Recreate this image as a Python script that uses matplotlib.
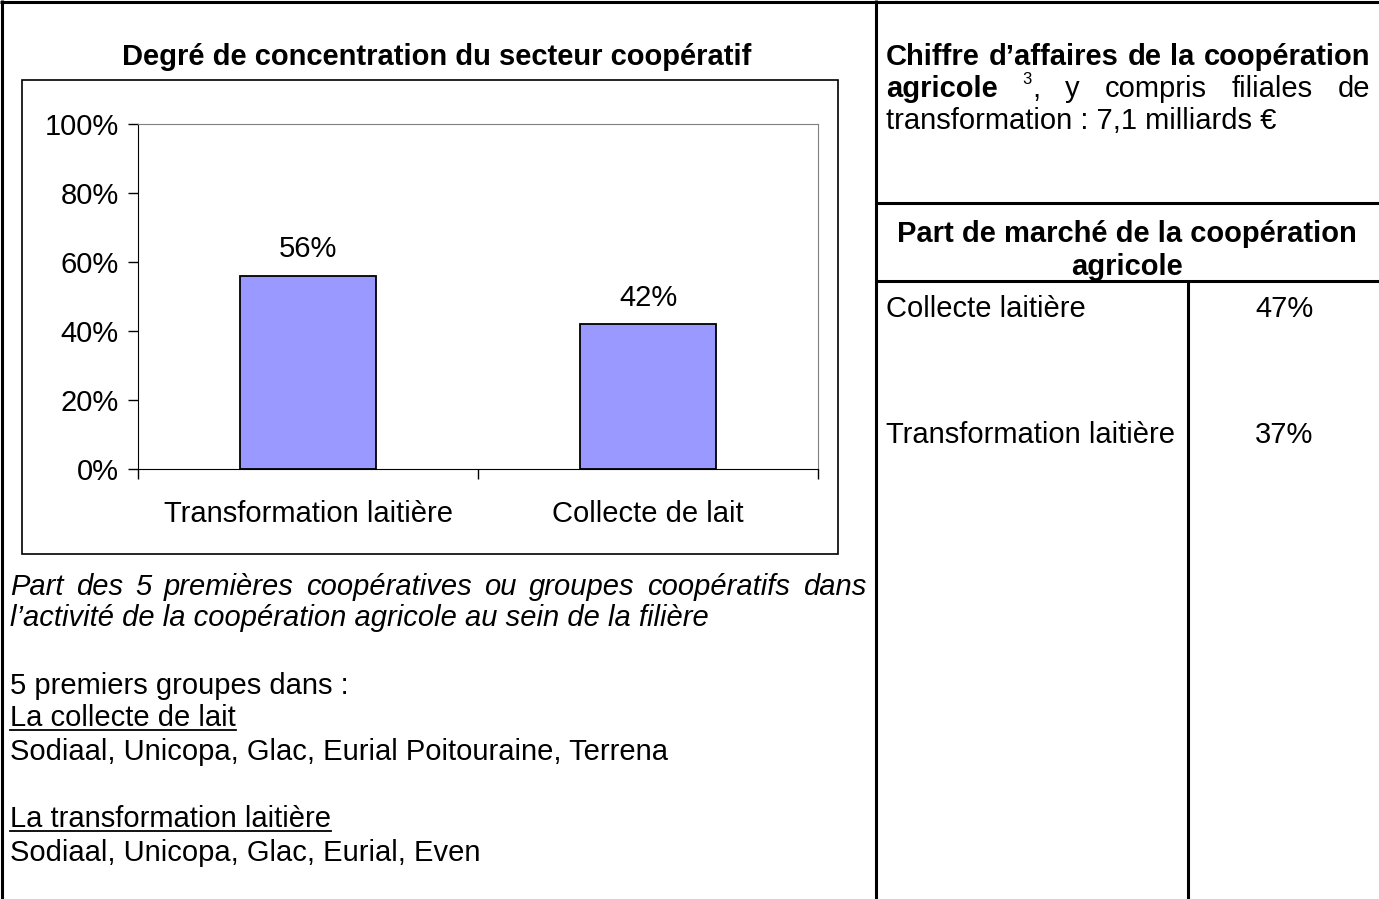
import numpy as np
import matplotlib.pyplot as plt
from matplotlib.patches import Rectangle

plt.rcParams['font.family'] = ['Liberation Sans', 'DejaVu Sans']

# Données du graphique
categories = ['Transformation laitière', 'Collecte de lait']
valeurs = [0.56, 0.42]
etiquettes = ['56%', '42%']
yticks = [0, 0.2, 0.4, 0.6, 0.8, 1.0]
ytick_labels = ['0%', '20%', '40%', '60%', '80%', '100%']

# Tableau de droite
lignes_tableau = ['Collecte laitière', 'Transformation laitière']
parts_marche = ['47%', '37%']

W, H = 1379, 899
FS = 21
fig = plt.figure(figsize=(W / 100, H / 100), dpi=100)

# Page en coordonnées pixels
page = fig.add_axes([0, 0, 1, 1])
page.set_xlim(0, W)
page.set_ylim(H, 0)
page.axis('off')
renderer = fig.canvas.get_renderer()


def largeur(t):
    return t.get_window_extent(renderer).width


def justifie(tokens, x0, x1, y):
    # chaque mot est une liste de morceaux (texte, options, décalage vertical)
    mots = []
    for tok in tokens:
        morceaux = []
        for s, kw, dy in tok:
            kw = dict(kw)
            fs = kw.pop('fontsize', FS)
            t = page.text(x0, y - dy, s, va='baseline', fontsize=fs, **kw)
            morceaux.append((t, largeur(t)))
        mots.append(morceaux)
    total = sum(w for m in mots for _, w in m)
    gap = (x1 - x0 - total) / (len(mots) - 1)
    x = x0
    for m in mots:
        for t, w in m:
            t.set_x(x)
            x += w
        x += gap


def simple(phrase, **kw):
    return [[(w, kw, 0)] for w in phrase.split()]


def souligne(x, y, s):
    t = page.text(x, y, s, va='baseline', fontsize=FS)
    w = largeur(t)
    page.plot([x, x + w], [y + 4, y + 4], color='black', lw=1.3)


# Cadres du tableau
k = dict(color='black', lw=2.2, solid_capstyle='butt')
page.plot([0, W], [2, 2], **k)
page.plot([2, 2], [0, H], **k)
page.plot([876, 876], [0, H], **k)
page.plot([876, W], [203, 203], **k)
page.plot([876, W], [281, 281], **k)
page.plot([1188, 1188], [281, H], **k)

# Cadre du graphique
page.add_patch(Rectangle((22, 80), 816, 474, fill=False, ec='black', lw=1.2))
page.text(437, 65, 'Degré de concentration du secteur coopératif', ha='center',
          va='baseline', fontsize=FS, fontweight='bold')

# Graphique en barres
ax = fig.add_axes([138 / W, 1 - 469 / H, 680 / W, 345 / H])
x = np.arange(len(categories))
bars = ax.bar(x, valeurs, width=0.4, color='#9999FF', edgecolor='black', lw=1.3)
ax.bar_label(bars, labels=etiquettes, padding=9, fontsize=FS)
ax.set_xlim(-0.5, len(categories) - 0.5)
ax.set_ylim(0, 1)
ax.set_yticks(yticks)
ax.set_yticklabels(ytick_labels, fontsize=FS)
ax.tick_params(axis='y', direction='out', length=7, pad=7, width=1)
ax.set_xticks(x)
ax.set_xticklabels(categories, fontsize=FS)
ax.tick_params(axis='x', length=0, pad=22)
ax.set_xticks(np.arange(-0.5, len(categories)), minor=True)
ax.tick_params(axis='x', which='minor', direction='out', length=7, width=1)
for s in ['top', 'right']:
    ax.spines[s].set_color('#808080')
for s in ['left', 'bottom']:
    ax.spines[s].set_color('black')

# Légende sous le graphique
justifie(simple('Part des 5 premières coopératives ou groupes coopératifs dans',
                style='italic'), 10, 866, 595)
page.text(10, 626, 'l’activité de la coopération agricole au sein de la filière',
          va='baseline', fontsize=FS, style='italic')

page.text(10, 694, '5 premiers groupes dans :', va='baseline', fontsize=FS)
souligne(10, 726, 'La collecte de lait')
page.text(10, 760, 'Sodiaal, Unicopa, Glac, Eurial Poitouraine, Terrena', va='baseline', fontsize=FS)
souligne(10, 827, 'La transformation laitière')
page.text(10, 861, 'Sodiaal, Unicopa, Glac, Eurial, Even', va='baseline', fontsize=FS)

# Colonne de droite
justifie(simple('Chiffre d’affaires de la coopération', fontweight='bold'), 886, 1370, 65)
ligne2 = [[('agricole', dict(fontweight='bold'), 0)],
          [('3', dict(fontsize=12), 13), (',', {}, 0)]] + simple('y compris filiales de')
justifie(ligne2, 886, 1370, 97)
page.text(886, 129, 'transformation : 7,1 milliards €', va='baseline', fontsize=FS)

page.text(1127, 242, 'Part de marché de la coopération', ha='center', va='baseline',
          fontsize=FS, fontweight='bold')
page.text(1127, 275, 'agricole', ha='center', va='baseline', fontsize=FS, fontweight='bold')

for i, (lab, val) in enumerate(zip(lignes_tableau, parts_marche)):
    y = 317 + i * 126
    page.text(886, y, lab, va='baseline', fontsize=FS)
    page.text(1284, y, val, ha='center', va='baseline', fontsize=FS)

fig.savefig('out.png', dpi=100)
